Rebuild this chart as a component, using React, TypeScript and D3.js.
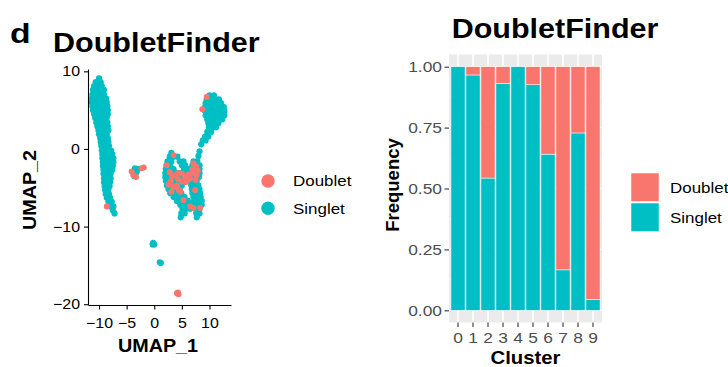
import React, { useEffect, useRef } from 'react';
import * as d3 from 'd3';

const SINGLET_COLOR = '#00BFC4';
const DOUBLET_COLOR = '#F8766D';
const FONT = '"Liberation Sans", Arial, Helvetica, sans-serif';

const leftClusterRows: [number, number[]][] = [
  [9.1, [-10.0]],
  [8.6, [-10.6, -9.7]],
  [8.1, [-10.9, -10.2, -9.5]],
  [7.6, [-11.1, -10.4, -9.7, -9.1]],
  [7.0, [-11.2, -10.5, -9.8, -9.1]],
  [6.5, [-11.3, -10.6, -9.9, -9.2, -8.7]],
  [6.0, [-11.3, -10.6, -9.9, -9.2, -8.6]],
  [5.5, [-11.2, -10.5, -9.8, -9.1, -8.5]],
  [5.0, [-11.1, -10.4, -9.7, -9.0, -8.4]],
  [4.5, [-10.9, -10.2, -9.5, -8.8, -8.4]],
  [4.0, [-10.7, -10.0, -9.3, -8.6]],
  [3.4, [-10.5, -9.8, -9.1, -8.5]],
  [2.9, [-10.3, -9.6, -8.9, -8.4]],
  [2.4, [-10.1, -9.4, -8.7, -8.3]],
  [1.9, [-10.0, -9.3, -8.6]],
  [1.4, [-9.8, -9.1, -8.4]],
  [0.9, [-9.7, -9.0, -8.3]],
  [0.4, [-9.6, -8.9, -8.2]],
  [-0.2, [-9.5, -8.8, -8.1, -7.8]],
  [-0.7, [-9.4, -8.7, -8.0, -7.6]],
  [-1.2, [-9.4, -8.7, -8.0, -7.4]],
  [-1.7, [-9.3, -8.6, -7.9, -7.4]],
  [-2.2, [-9.3, -8.6, -7.9, -7.5]],
  [-2.7, [-9.2, -8.5, -7.8, -7.6]],
  [-3.2, [-9.2, -8.5, -7.9]],
  [-3.8, [-9.1, -8.4, -7.9]],
  [-4.3, [-9.1, -8.4, -8.0]],
  [-4.8, [-9.0, -8.3, -8.1]],
  [-5.3, [-8.9, -8.3]],
  [-5.8, [-8.8, -8.2]],
  [-6.3, [-8.6, -8.0]],
  [-6.8, [-8.3, -7.7]],
  [-7.4, [-7.9, -7.4]],
  [-7.9, [-7.5]],
  [-8.3, [-7.2]],
];

const topRightRows: [number, number[]][] = [
  [6.9, [10.0, 10.8]],
  [6.4, [9.5, 10.3, 11.1, 11.7]],
  [5.9, [9.3, 10.0, 10.7, 11.4, 12.1]],
  [5.4, [9.2, 9.9, 10.6, 11.3, 12.0, 12.6]],
  [4.9, [9.2, 9.9, 10.6, 11.3, 12.0, 12.7]],
  [4.3, [9.3, 10.0, 10.7, 11.4, 12.1, 12.7]],
  [3.8, [9.6, 10.3, 11.0, 11.7, 12.3]],
  [3.3, [9.8, 10.5, 11.1, 11.6]],
  [2.8, [9.9, 10.6, 11.2]],
  [2.2, [9.6, 10.3]],
  [1.6, [9.2, 9.8]],
  [1.1, [8.8, 9.3]],
  [0.6, [8.5]],
  [-0.3, [8.2]],
  [-0.9, [8.0]],
];

const lowerRightRows: [number, number[]][] = [
  [-0.5, [3.1]],
  [-1.0, [2.8, 3.5, 4.2]],
  [-1.6, [2.4, 3.1, 4.6, 5.3, 7.1, 7.8]],
  [-2.1, [2.2, 2.9, 5.0, 5.6, 6.9, 7.6, 8.2]],
  [-2.6, [2.1, 2.8, 3.5, 5.4, 6.1, 6.8, 7.5, 8.2]],
  [-3.1, [2.0, 2.7, 3.4, 4.1, 4.8, 5.5, 6.2, 6.9, 7.6, 8.2]],
  [-3.6, [2.0, 2.7, 3.4, 4.1, 4.8, 5.5, 6.2, 6.9, 7.6, 8.1]],
  [-4.1, [2.1, 2.8, 3.5, 4.2, 4.9, 5.6, 6.3, 7.0, 7.7]],
  [-4.7, [2.3, 3.0, 3.7, 4.4, 5.0, 6.7, 7.4, 8.0]],
  [-5.2, [2.6, 3.3, 4.0, 4.6, 6.8, 7.5, 8.2]],
  [-5.7, [2.9, 3.6, 4.3, 4.9, 6.9, 7.6, 8.3]],
  [-6.2, [3.5, 4.2, 4.9, 5.5, 7.1, 7.8, 8.4]],
  [-6.7, [4.1, 4.8, 5.5, 6.1, 7.2, 7.9, 8.6]],
  [-7.2, [4.7, 5.4, 6.1, 6.7, 7.4, 8.1, 8.6]],
  [-7.7, [5.1, 5.8, 6.5, 7.5, 8.2]],
  [-8.3, [4.9, 5.5, 7.6, 8.2]],
  [-8.8, [4.8, 7.7]],
];

const smallSinglets: [number, number][] = [
  [-3.5, -2.5], [-3.0, -2.6], [-3.2, -3.0], [-3.6, -3.5],
  [-0.2, -12.1], [0.0, -12.3], [-0.3, -12.3],
  [1.0, -14.6], [1.2, -14.7],
];

const doubletCells: [number, number][] = [
  [9.5, 6.7], [8.7, 5.1], [-8.6, -7.4],
  [-2.3, -2.5], [-1.9, -2.4], [-3.8, -3.4], [-4.1, -2.9], [-3.3, -3.6],
  [4.1, -18.6], [4.4, -18.7], [4.3, -18.5],
  [3.5, -0.8], [2.3, -2.1], [7.1, -1.85], [7.6, -2.3], [6.9, -2.6], [7.9, -2.8],
  [7.1, -3.1], [7.7, -3.4], [7.5, -4.0], [2.8, -3.0], [3.2, -3.6], [3.8, -3.4],
  [4.4, -3.1], [5.0, -3.2], [5.6, -3.6], [6.2, -3.3], [6.5, -3.8], [6.0, -4.0],
  [3.0, -4.2], [4.3, -3.9], [5.0, -4.2], [5.7, -4.3], [4.1, -4.7], [2.6, -4.6],
  [3.5, -4.9], [4.4, -5.3], [4.7, -5.5], [3.1, -5.5], [7.4, -5.3],
  [5.3, -6.6], [6.5, -7.4], [7.1, -7.6], [8.3, -7.6],
];

// Share of singlet cells per cluster
const clusters = ['0', '1', '2', '3', '4', '5', '6', '7', '8', '9'];
const singletFreq = [1.0, 0.966, 0.543, 0.931, 1.0, 0.926, 0.641, 0.166, 0.728, 0.044];
const groups = ['Doublet', 'Singlet'];

const umap1Ticks = [-10, -5, 0, 5, 10];
const umap2Ticks = [-20, -10, 0, 10];
const freqTicks = [0, 0.25, 0.5, 0.75, 1];
const freqMinor = [0.125, 0.375, 0.625, 0.875];

const toPoints = (rows: [number, number[]][]) =>
  rows.flatMap(([v, us]) => us.map(u => [u, v] as [number, number]));

export default function App() {
  const svgRef = useRef<SVGSVGElement>(null);

  useEffect(() => {
    if (!svgRef.current) return;
    const svg = d3.select(svgRef.current);
    svg.selectAll('*').remove();

    const color = d3.scaleOrdinal<string, string>().domain(groups).range([DOUBLET_COLOR, SINGLET_COLOR]);

    // the original type is set wider than Liberation Sans, so text gets a horizontal stretch
    const label = (x: number, y: number, txt: string, size: number, k: number, opts: any = {}) =>
      svg.append('text')
        .attr('transform', `translate(${x},${y}) ${opts.rotate ? 'rotate(-90) ' : ''}scale(${k},1)`)
        .attr('text-anchor', opts.anchor || 'start')
        .attr('fill', opts.fill || '#000')
        .style('font-family', FONT)
        .style('font-size', `${size}px`)
        .style('font-weight', opts.bold ? 'bold' : 'normal')
        .text(txt);

    const styleAxisText = (a: any, size: number, k: number, fill: string) => {
      a.selectAll('text')
        .attr('fill', fill)
        .style('font-family', FONT)
        .style('font-size', `${size}px`)
        .attr('transform', function (this: SVGTextElement) {
          return `translate(${+(this.getAttribute('x') || 0)},0) scale(${k},1)`;
        })
        .attr('x', 0);
    };

    // ---------- left: UMAP scatter ----------
    const x = d3.scaleLinear().domain([-12.0, 13.9]).range([88, 231]);
    const y = d3.scaleLinear().domain([-20.1, 10.3]).range([305, 69]);

    label(10, 43, 'd', 27, 1.25, { bold: true });
    label(53, 51.5, 'DoubletFinder', 28, 1.09, { bold: true });

    const singlets = [
      ...toPoints(leftClusterRows),
      ...toPoints(topRightRows),
      ...toPoints(lowerRightRows),
      ...smallSinglets,
    ];

    const pts = svg.append('g');
    pts.selectAll('.singlet')
      .data(singlets)
      .enter()
      .append('circle')
      .attr('cx', d => x(d[0]))
      .attr('cy', d => y(d[1]))
      .attr('r', 3.1)
      .attr('fill', color('Singlet'));

    pts.selectAll('.doublet')
      .data(doubletCells)
      .enter()
      .append('circle')
      .attr('cx', d => x(d[0]))
      .attr('cy', d => y(d[1]))
      .attr('r', 3.0)
      .attr('fill', color('Doublet'));

    const yAxis = svg.append('g')
      .attr('transform', 'translate(88,0)')
      .call(d3.axisLeft(y).tickValues(umap2Ticks).tickSize(4).tickPadding(4).tickSizeOuter(0));
    const xAxis = svg.append('g')
      .attr('transform', 'translate(0,305)')
      .call(d3.axisBottom(x).tickValues(umap1Ticks).tickSize(4.5).tickPadding(8).tickSizeOuter(0));
    [xAxis, yAxis].forEach(a => {
      a.select('.domain').attr('stroke', '#000').attr('stroke-width', 1.1);
      a.selectAll('.tick line').attr('stroke', '#000').attr('stroke-width', 1.1);
      styleAxisText(a, 14.5, 1.1, '#000');
    });

    label(158, 352, 'UMAP_1', 19, 1.04, { bold: true, anchor: 'middle' });
    label(36, 190, 'UMAP_2', 19, 1.04, { bold: true, anchor: 'middle', rotate: true });

    const leg1 = svg.append('g').selectAll('g')
      .data(groups)
      .enter()
      .append('g')
      .attr('transform', (d, i) => `translate(268,${181 + i * 27.3})`);
    leg1.append('circle').attr('r', 6.7).attr('fill', d => color(d));
    leg1.append('text')
      .attr('transform', 'translate(25,0) scale(1.13,1)')
      .attr('dy', '0.35em')
      .style('font-family', FONT).style('font-size', '15px')
      .text(d => d);

    // ---------- right: stacked frequency bars ----------
    const bx = d3.scaleBand().domain(clusters).range([449, 602]).paddingInner(0.06).paddingOuter(0.13);
    const by = d3.scaleLinear().domain([-0.05, 1.05]).range([322.5, 54.5]);

    label(555, 37.5, 'DoubletFinder', 28, 1.09, { bold: true, anchor: 'middle' });

    svg.append('rect')
      .attr('x', 449).attr('y', 54.5)
      .attr('width', 153).attr('height', 268)
      .attr('fill', '#EBEBEB');

    const grid = svg.append('g').attr('stroke', '#fff');
    grid.selectAll('.minor')
      .data(freqMinor)
      .enter()
      .append('line')
      .attr('x1', 449).attr('x2', 602)
      .attr('y1', d => by(d)).attr('y2', d => by(d))
      .attr('stroke-width', 0.6);
    grid.selectAll('.major')
      .data(freqTicks)
      .enter()
      .append('line')
      .attr('x1', 449).attr('x2', 602)
      .attr('y1', d => by(d)).attr('y2', d => by(d))
      .attr('stroke-width', 1.3);
    grid.selectAll('.vmajor')
      .data(clusters)
      .enter()
      .append('line')
      .attr('x1', d => bx(d)! + bx.bandwidth() / 2).attr('x2', d => bx(d)! + bx.bandwidth() / 2)
      .attr('y1', 54.5).attr('y2', 322.5)
      .attr('stroke-width', 1.5);

    const stacks = clusters.map((c, i) => ({
      cluster: c,
      segments: [
        { group: 'Singlet', y0: 0, y1: singletFreq[i] },
        { group: 'Doublet', y0: singletFreq[i], y1: 1 },
      ],
    }));

    svg.append('g').selectAll('g')
      .data(stacks)
      .enter()
      .append('g')
      .selectAll('rect')
      .data(d => d.segments.filter(s => s.y1 > s.y0).map(s => ({ ...s, cluster: d.cluster })))
      .enter()
      .append('rect')
      .attr('x', d => bx(d.cluster)!)
      .attr('width', bx.bandwidth())
      .attr('y', d => by(d.y1))
      .attr('height', d => by(d.y0) - by(d.y1))
      .attr('fill', d => color(d.group))
      .attr('stroke', '#fff')
      .attr('stroke-width', 0.5);

    const fy = svg.append('g')
      .attr('transform', 'translate(449,0)')
      .call(d3.axisLeft(by).tickValues(freqTicks).tickFormat(d3.format('.2f')).tickSize(4.5).tickPadding(2.5));
    const fx = svg.append('g')
      .attr('transform', 'translate(0,322.5)')
      .call(d3.axisBottom(bx).tickSize(4.5).tickPadding(5));
    [fx, fy].forEach(a => {
      a.select('.domain').remove();
      a.selectAll('.tick line').attr('stroke', '#333').attr('stroke-width', 1.1);
      styleAxisText(a, 15, 1.16, '#4D4D4D');
    });

    label(525.5, 364, 'Cluster', 19, 1.07, { bold: true, anchor: 'middle' });
    label(399, 185, 'Frequency', 18.5, 1.0, { bold: true, anchor: 'middle', rotate: true });

    const leg2 = svg.append('g').selectAll('g')
      .data(groups)
      .enter()
      .append('g')
      .attr('transform', (d, i) => `translate(631,${173 + i * 30})`);
    leg2.append('rect')
      .attr('width', 28).attr('height', 28.5)
      .attr('fill', d => color(d))
      .attr('stroke', '#fff').attr('stroke-width', 0.5);
    leg2.append('text')
      .attr('transform', 'translate(39,14.3) scale(1.13,1)')
      .attr('dy', '0.35em')
      .style('font-family', FONT).style('font-size', '15px')
      .text(d => d);
  }, []);

  return (
    <svg
      ref={svgRef}
      width={728}
      height={367}
      style={{ position: 'absolute', left: 0, top: 0, display: 'block', background: '#fff' }}
    />
  );
}
